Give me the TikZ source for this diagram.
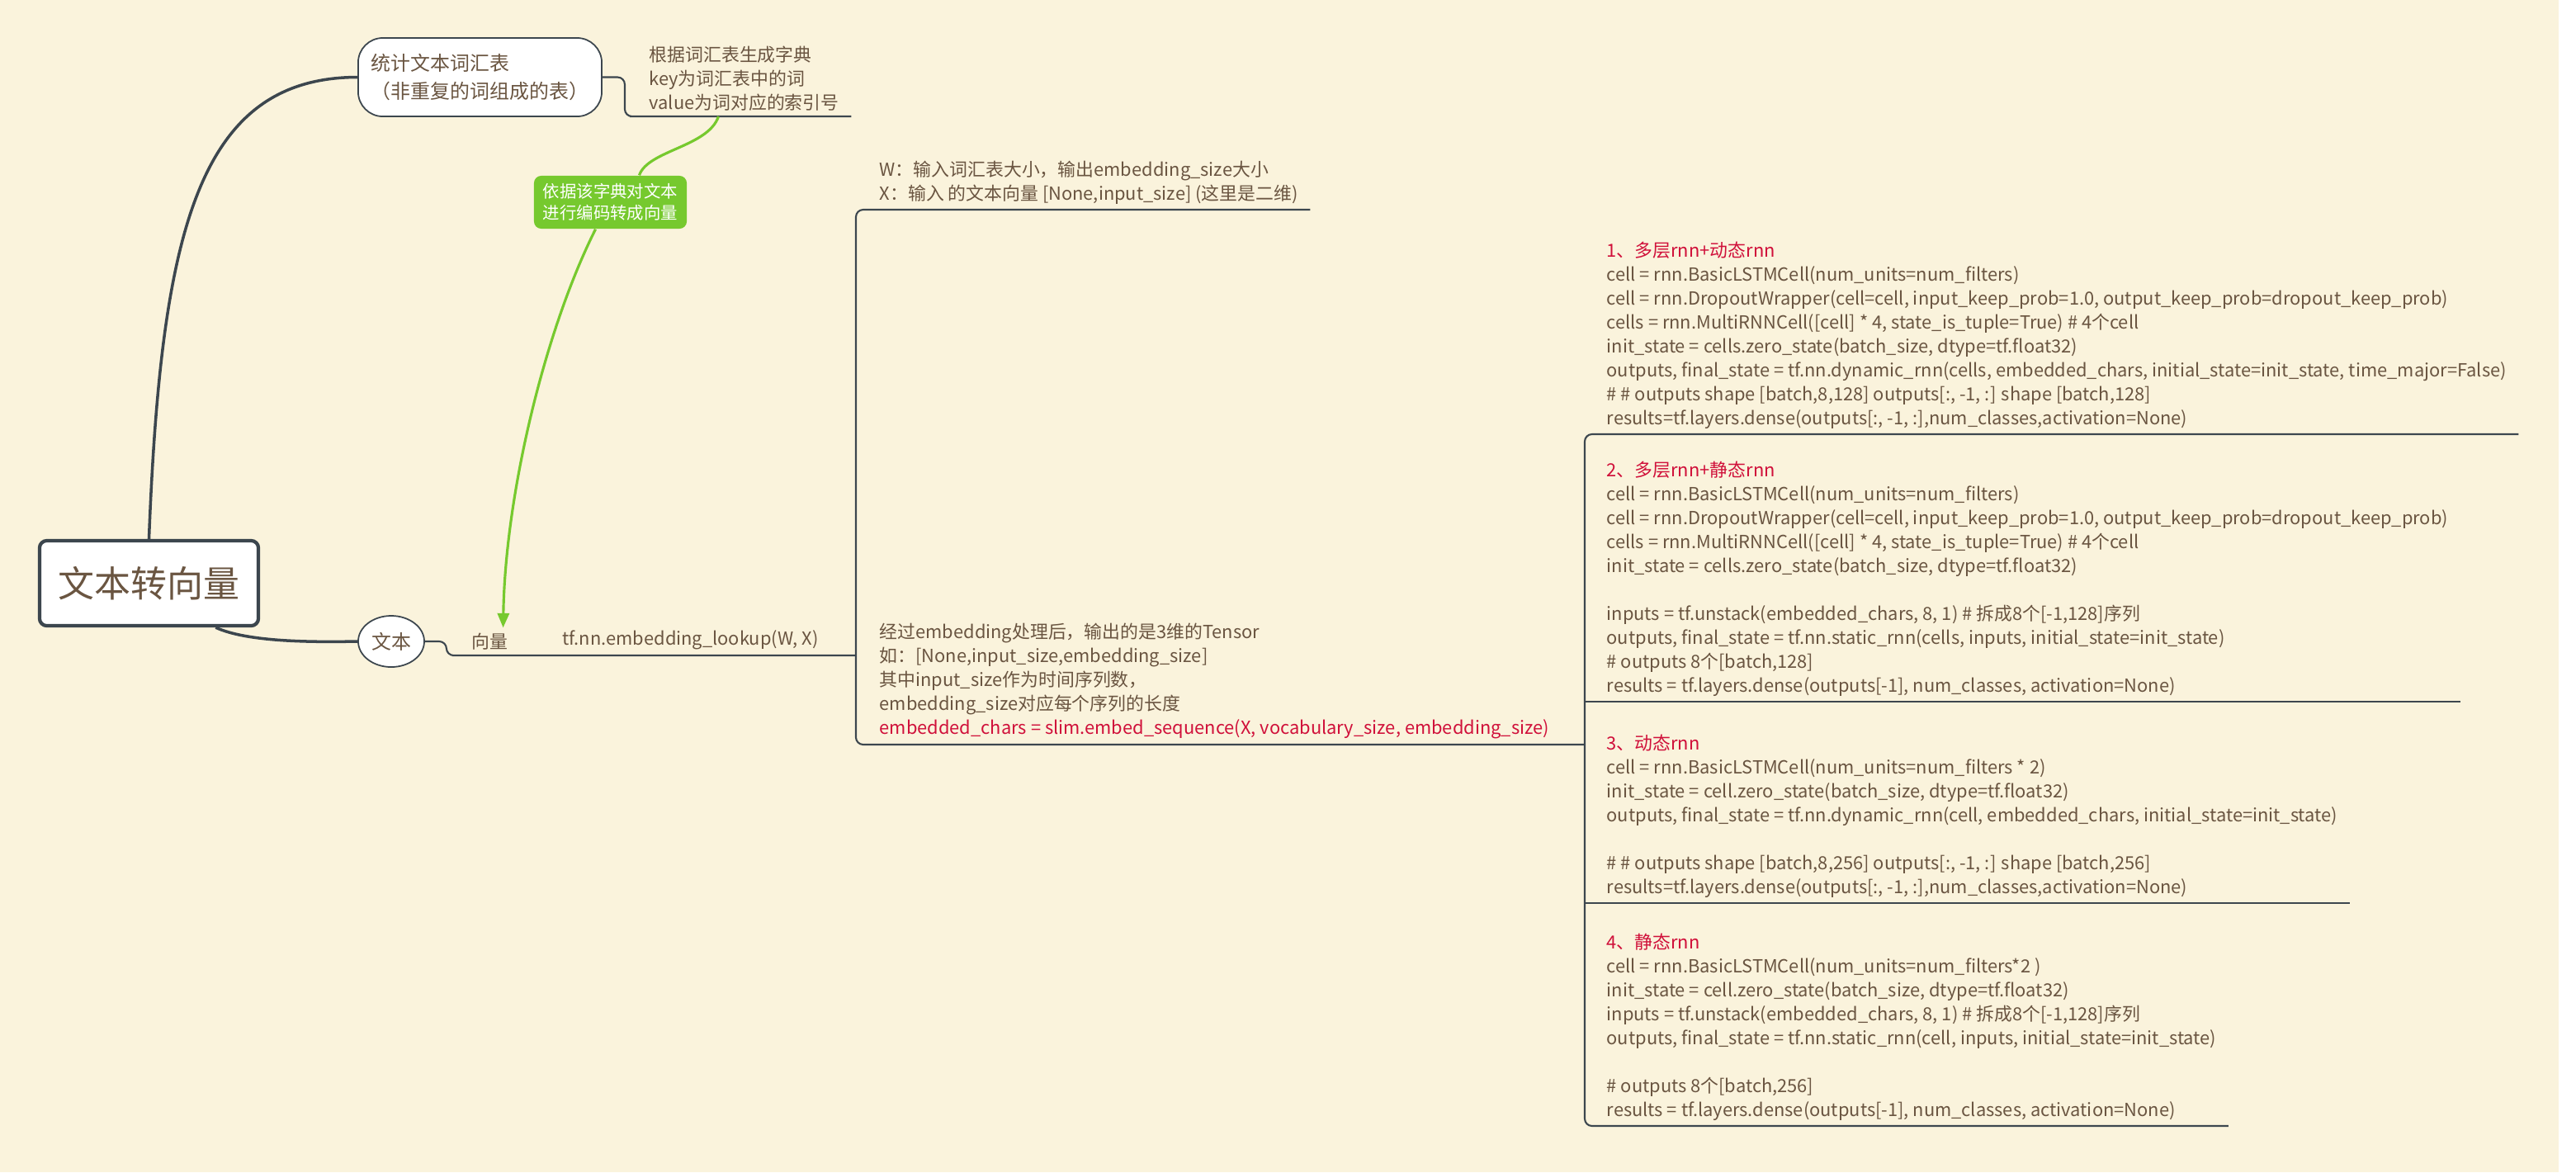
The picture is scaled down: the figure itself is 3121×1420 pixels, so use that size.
\documentclass[tikz,border=0pt]{standalone}
\usepackage{fontspec}
\setmainfont{Noto Sans CJK SC}
\usetikzlibrary{positioning,arrows.meta,calc,shapes.geometric}

\definecolor{mapbg}{HTML}{FAF3DC}
\definecolor{mapline}{HTML}{3C464E}
\definecolor{mapbrown}{HTML}{6A5541}
\definecolor{mapred}{HTML}{D0103A}
\definecolor{mapgreen}{HTML}{76C92E}

\begin{document}
\begin{tikzpicture}[x=0.01cm,y=-0.01cm]
	\tikzstyle{root} = [draw=mapline, line width=1.2pt, fill=white, rounded corners=2.5pt, minimum width=2.65cm, minimum height=1.03cm, text=mapbrown, font={\fontsize{12.5pt}{14pt}\selectfont}];
	\tikzstyle{bubble} = [draw=mapline, line width=0.5pt, fill=white, rounded corners=8.5pt, minimum width=2.95cm, minimum height=0.95cm, align=left, text=mapbrown, font={\fontsize{6.8pt}{9.4pt}\selectfont}];
	\tikzstyle{oval} = [draw=mapline, line width=0.5pt, fill=white, ellipse, minimum width=0.8cm, minimum height=0.62cm, inner sep=0pt, text=mapbrown, font={\fontsize{6.8pt}{8pt}\selectfont}];
	\tikzstyle{topic} = [anchor=south west, align=left, inner xsep=0.14cm, inner ysep=0.06cm, text=mapbrown, font={\fontsize{6.22pt}{8.25pt}\selectfont}];
	\tikzstyle{relnote} = [fill=mapgreen, rounded corners=2.5pt, minimum width=1.85cm, minimum height=0.64cm, inner sep=1pt, align=center, text=white, font={\fontsize{5.8pt}{7.4pt}\selectfont}];
	\tikzstyle{trunk} = [draw=mapline, line width=1pt];
	\tikzstyle{branchline} = [draw=mapline, line width=0.6pt, rounded corners=2.5pt];
	\tikzstyle{relline} = [draw=mapgreen, line width=0.9pt];

	\useasboundingbox (0,0) rectangle (3121,1420);
	\fill[white] (0,0) rectangle (3121,1420);
	\fill[mapbg] (0,0) rectangle (3100,1420);

	% main topics
	\node[root] (root) at (180.5,706.5) {文本转向量};
	\node[bubble] (vocab) at (581.5,93.5) {统计文本词汇表\\（非重复的词组成的表）};
	\node[oval] (txt) at (474,777) {文本};

	% sub topics
	\node[topic] (dict) at (772,141) {根据词汇表生成字典\\key为词汇表中的词\\value为词对应的索引号};
	\node[relnote] (note) at (739.5,245) {依据该字典对文本\\进行编码转成向量};
	\node[topic] (vec) at (557,794) {向量};
	\node[topic] (lookup) at (667,794) {tf.nn.embedding\_lookup(W, X)};
	\node[topic] (wx) at (1051,254) {W：输入词汇表大小，输出embedding\_size大小\\X：输入 的文本向量 [None,input\_size] (这里是二维)};
	\node[topic] (emb) at (1051,902) {经过embedding处理后，输出的是3维的Tensor\\如：[None,input\_size,embedding\_size]\\其中input\_size作为时间序列数，\\embedding\_size对应每个序列的长度\\\textcolor{mapred}{embedded\_chars = slim.embed\_sequence(X, vocabulary\_size, embedding\_size)}};

	% rnn variants
	\node[topic] (c1) at (1932,526) {\textcolor{mapred}{1、多层rnn+动态rnn}\\
		cell = rnn.BasicLSTMCell(num\_units=num\_filters)\\
		cell = rnn.DropoutWrapper(cell=cell, input\_keep\_prob=1.0, output\_keep\_prob=dropout\_keep\_prob)\\
		cells = rnn.MultiRNNCell([cell] * 4, state\_is\_tuple=True) \# 4个cell\\
		init\_state = cells.zero\_state(batch\_size, dtype=tf.float32)\\
		outputs, final\_state = tf.nn.dynamic\_rnn(cells, embedded\_chars, initial\_state=init\_state, time\_major=False)\\
		\# \# outputs shape [batch,8,128] outputs[:, -1, :] shape [batch,128]\\
		results=tf.layers.dense(outputs[:, -1, :],num\_classes,activation=None)};
	\node[topic] (c2) at (1932,850) {\textcolor{mapred}{2、多层rnn+静态rnn}\\
		cell = rnn.BasicLSTMCell(num\_units=num\_filters)\\
		cell = rnn.DropoutWrapper(cell=cell, input\_keep\_prob=1.0, output\_keep\_prob=dropout\_keep\_prob)\\
		cells = rnn.MultiRNNCell([cell] * 4, state\_is\_tuple=True) \# 4个cell\\
		init\_state = cells.zero\_state(batch\_size, dtype=tf.float32)\\[8.25pt]
		inputs = tf.unstack(embedded\_chars, 8, 1) \# 拆成8个[-1,128]序列\\
		outputs, final\_state = tf.nn.static\_rnn(cells, inputs, initial\_state=init\_state)\\
		\# outputs 8个[batch,128]\\
		results = tf.layers.dense(outputs[-1], num\_classes, activation=None)};
	\node[topic] (c3) at (1932,1094) {\textcolor{mapred}{3、动态rnn}\\
		cell = rnn.BasicLSTMCell(num\_units=num\_filters * 2)\\
		init\_state = cell.zero\_state(batch\_size, dtype=tf.float32)\\
		outputs, final\_state = tf.nn.dynamic\_rnn(cell, embedded\_chars, initial\_state=init\_state)\\[8.25pt]
		\# \# outputs shape [batch,8,256] outputs[:, -1, :] shape [batch,256]\\
		results=tf.layers.dense(outputs[:, -1, :],num\_classes,activation=None)};
	\node[topic] (c4) at (1932,1364) {\textcolor{mapred}{4、静态rnn}\\
		cell = rnn.BasicLSTMCell(num\_units=num\_filters*2 )\\
		init\_state = cell.zero\_state(batch\_size, dtype=tf.float32)\\
		inputs = tf.unstack(embedded\_chars, 8, 1) \# 拆成8个[-1,128]序列\\
		outputs, final\_state = tf.nn.static\_rnn(cell, inputs, initial\_state=init\_state)\\[8.25pt]
		\# outputs 8个[batch,256]\\
		results = tf.layers.dense(outputs[-1], num\_classes, activation=None)};

	\coordinate (ba) at (1037,794);
	\coordinate (bb) at (1920,902);

	% connectors
	\draw[trunk] (root.north) .. controls (195,280) and (240,94) .. (vocab.west);
	\draw[trunk] ($(root.south west)!0.8!(root.south east)$) .. controls (300,778) and (380,778) .. (txt.west);
	\draw[branchline] (vocab.east) -- ++(27,0) |- (dict.south west) -- (dict.south east);
	\draw[branchline] (txt.east) -- ++(26,0) |- (vec.south west) -- (lookup.south east) -- (ba);
	\draw[branchline] (wx.south east) -- (wx.south west -| ba) -- (emb.south west -| ba) -- (bb);
	\draw[branchline] (c1.south east) -- (c1.south west -| bb) -- (c4.south west -| bb) -- (c4.south east);
	\draw[branchline] (c2.south west -| bb) -- (c2.south east);
	\draw[branchline] (c3.south west -| bb) -- (c3.south east);

	% relation
	\draw[relline] ($(dict.south west)!0.38!(dict.south east)$) .. controls (858,178) and (785,182) .. ($(note.north)+(35,0)$);
	\draw[relline, -{Triangle[length=5pt,width=4pt]}] ($(note.south)+(-18,0)$) .. controls (660,400) and (612,600) .. ($(vec.north)+(16,0)$);
\end{tikzpicture}
\end{document}
